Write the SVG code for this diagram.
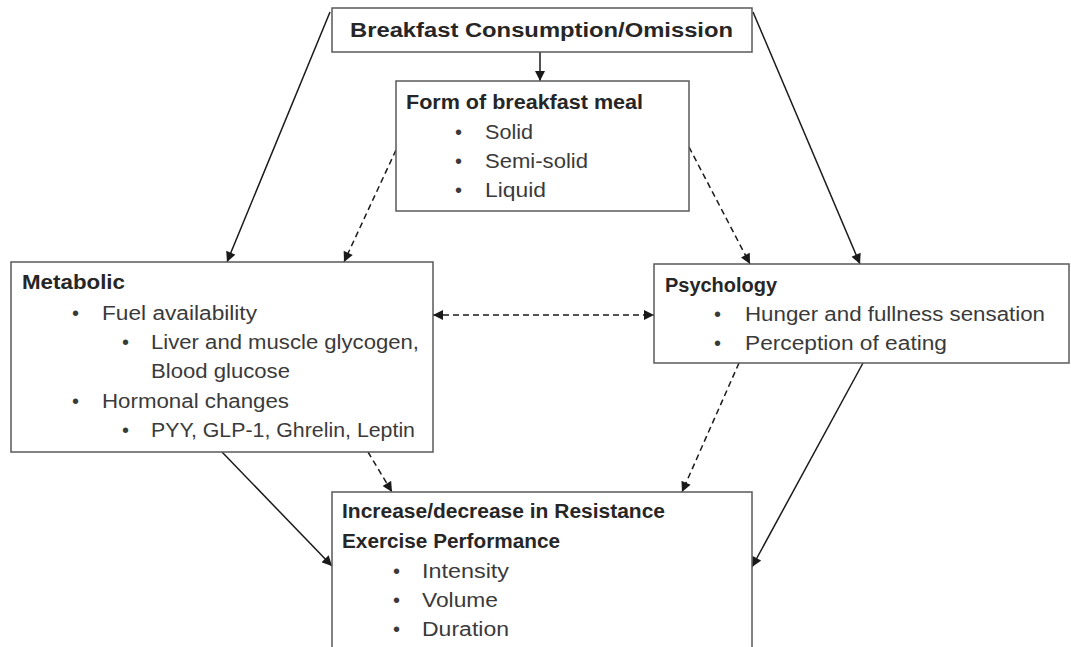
<svg xmlns="http://www.w3.org/2000/svg" width="1071" height="647" viewBox="0 0 1071 647">
<style>
.box{fill:#fff;stroke:#5a5a5a;stroke-width:1.5}
.t{font-family:"Liberation Sans",Arial,sans-serif;font-size:20px;fill:#3a3a3a}
.b{font-weight:bold;fill:#262626}
.ln{stroke:#1a1a1a;stroke-width:1.5;fill:none}
.d{stroke-dasharray:6 4}
</style>
<defs>
<marker id="ah" viewBox="0 0 10 10" refX="10" refY="5" markerWidth="11" markerHeight="10" markerUnits="userSpaceOnUse" orient="auto-start-reverse">
<path d="M0,0 L10,5 L0,10 z" fill="#1a1a1a"/>
</marker>
</defs>
<rect width="1071" height="647" fill="#fff"/>
<g id="connectors">
<line class="ln" x1="540" y1="52" x2="540" y2="81" marker-end="url(#ah)"/>
<line class="ln" x1="330" y1="12" x2="227" y2="262" marker-end="url(#ah)"/>
<line class="ln" x1="753" y1="12" x2="860" y2="264" marker-end="url(#ah)"/>
<line class="ln d" x1="396" y1="150" x2="344" y2="262" marker-end="url(#ah)"/>
<line class="ln d" x1="689" y1="147" x2="750" y2="264" marker-end="url(#ah)"/>
<line class="ln d" x1="433" y1="315" x2="654" y2="315" marker-start="url(#ah)" marker-end="url(#ah)"/>
<line class="ln" x1="222" y1="452" x2="332" y2="566" marker-end="url(#ah)"/>
<line class="ln d" x1="368" y1="452" x2="392" y2="492" marker-end="url(#ah)"/>
<line class="ln d" x1="739" y1="363" x2="682" y2="492" marker-end="url(#ah)"/>
<line class="ln" x1="863" y1="363" x2="752" y2="567" marker-end="url(#ah)"/>
</g>
<g id="breakfast">
<rect class="box" x="332" y="8" width="420" height="44"/>
<text class="t b" x="350" y="37" textLength="383" lengthAdjust="spacingAndGlyphs">Breakfast Consumption/Omission</text>
</g>
<g id="form">
<rect class="box" x="396" y="81" width="293" height="130"/>
<text class="t b" x="406" y="109" textLength="237" lengthAdjust="spacingAndGlyphs">Form of breakfast meal</text>
<text class="t" x="455" y="139">•</text><text class="t" x="485" y="139" textLength="48" lengthAdjust="spacingAndGlyphs">Solid</text>
<text class="t" x="455" y="168">•</text><text class="t" x="485" y="168" textLength="103" lengthAdjust="spacingAndGlyphs">Semi-solid</text>
<text class="t" x="455" y="197">•</text><text class="t" x="485" y="197" textLength="61" lengthAdjust="spacingAndGlyphs">Liquid</text>
</g>
<g id="metabolic">
<rect class="box" x="11" y="262" width="422" height="190"/>
<text class="t b" x="22" y="289" textLength="103" lengthAdjust="spacingAndGlyphs">Metabolic</text>
<text class="t" x="72" y="320">•</text><text class="t" x="102" y="320" textLength="155" lengthAdjust="spacingAndGlyphs">Fuel availability</text>
<text class="t" x="122" y="349">•</text><text class="t" x="151" y="349" textLength="268" lengthAdjust="spacingAndGlyphs">Liver and muscle glycogen,</text>
<text class="t" x="151" y="378" textLength="139" lengthAdjust="spacingAndGlyphs">Blood glucose</text>
<text class="t" x="72" y="408">•</text><text class="t" x="102" y="408" textLength="187" lengthAdjust="spacingAndGlyphs">Hormonal changes</text>
<text class="t" x="122" y="437">•</text><text class="t" x="151" y="437" textLength="264" lengthAdjust="spacingAndGlyphs">PYY, GLP-1, Ghrelin, Leptin</text>
</g>
<g id="psychology">
<rect class="box" x="654" y="264" width="415" height="99"/>
<text class="t b" x="665" y="292" textLength="112" lengthAdjust="spacingAndGlyphs">Psychology</text>
<text class="t" x="714" y="321">•</text><text class="t" x="745" y="321" textLength="300" lengthAdjust="spacingAndGlyphs">Hunger and fullness sensation</text>
<text class="t" x="714" y="350">•</text><text class="t" x="745" y="350" textLength="202" lengthAdjust="spacingAndGlyphs">Perception of eating</text>
</g>
<g id="performance">
<rect class="box" x="332" y="492" width="420" height="170"/>
<text class="t b" x="342" y="518" textLength="323" lengthAdjust="spacingAndGlyphs">Increase/decrease in Resistance</text>
<text class="t b" x="342" y="548" textLength="218" lengthAdjust="spacingAndGlyphs">Exercise Performance</text>
<text class="t" x="393" y="578">•</text><text class="t" x="422" y="578" textLength="87" lengthAdjust="spacingAndGlyphs">Intensity</text>
<text class="t" x="393" y="607">•</text><text class="t" x="422" y="607" textLength="76" lengthAdjust="spacingAndGlyphs">Volume</text>
<text class="t" x="393" y="636">•</text><text class="t" x="422" y="636" textLength="87" lengthAdjust="spacingAndGlyphs">Duration</text>
</g>
</svg>
